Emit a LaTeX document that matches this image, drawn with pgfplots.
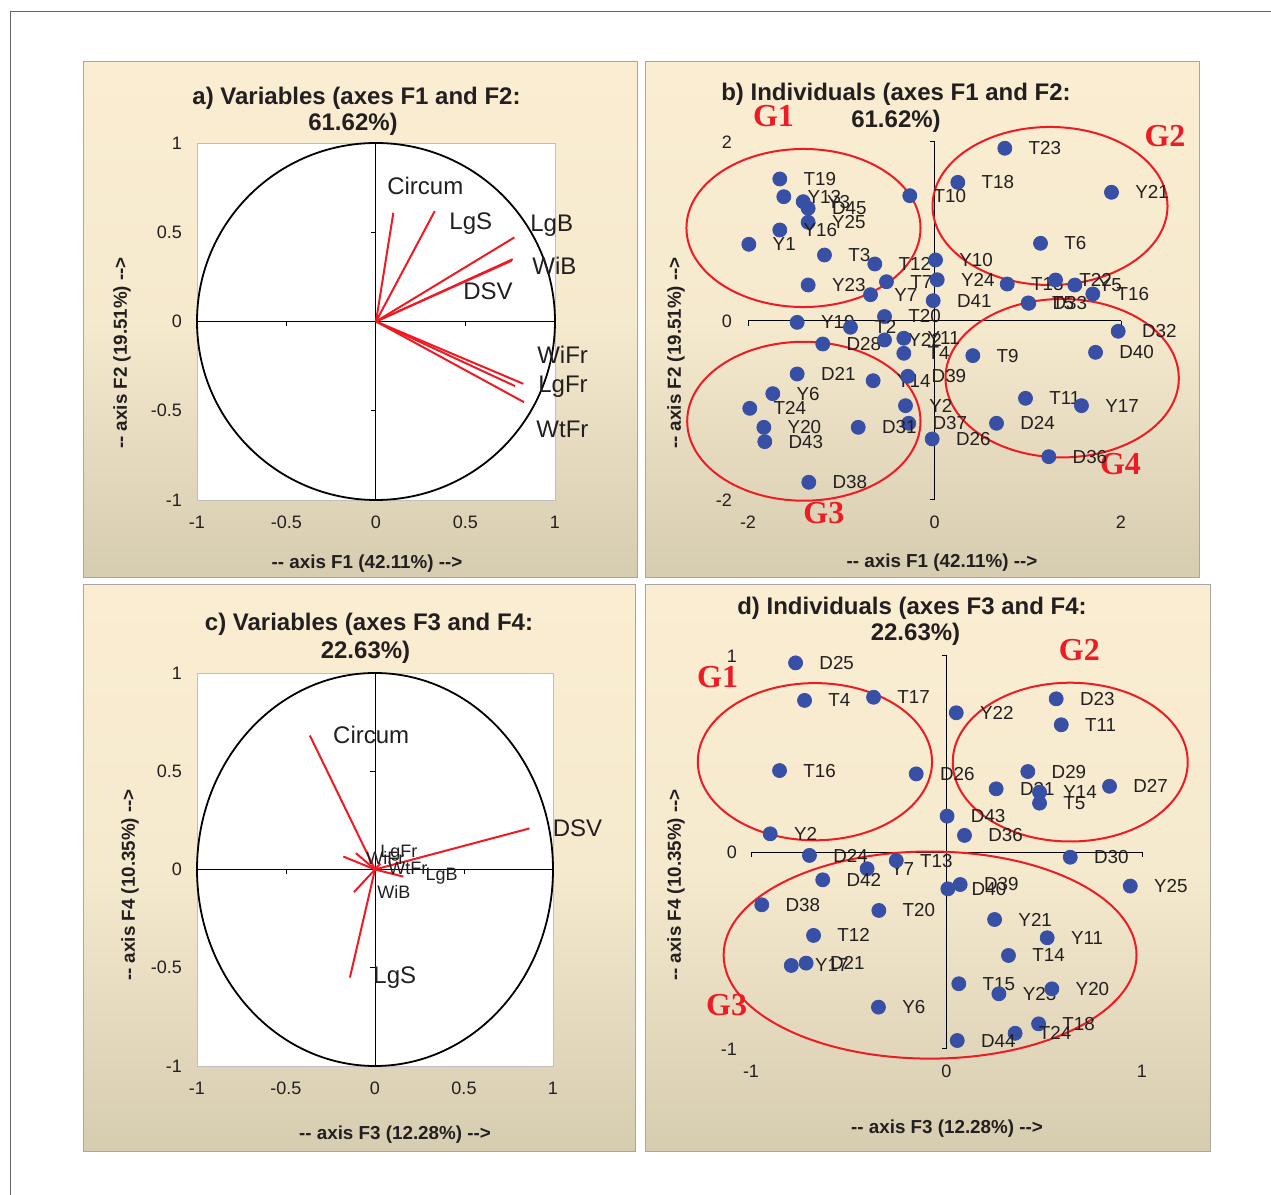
\documentclass[border=0pt]{standalone}
\usepackage{fontspec}
\setmainfont{Liberation Sans}
\newfontfamily\gfont{Liberation Serif}
\usepackage{pgfplots}
\pgfplotsset{compat=1.18}
\definecolor{ptblue}{RGB}{55,80,165}
\definecolor{vred}{RGB}{237,28,36}
\definecolor{bgtop}{RGB}{250,237,210}
\definecolor{bgmid}{RGB}{245,233,206}
\definecolor{bgbot}{RGB}{214,204,176}
\definecolor{txt}{RGB}{35,31,32}
\pgfplotsset{
  panel/.style={scale only axis, clip=false, anchor=south west,
    tick style={draw=none},
    ticklabel style={font=\fontsize{9}{10}\selectfont, text=txt}},
  boxpanel/.style={panel, axis background/.style={fill=white}, axis line style={draw=black!25}},
  freepanel/.style={panel, axis line style={draw=none}},
  pts/.style={only marks, mark=*, mark size=3.5pt, color=ptblue,
    mark options={draw=ptblue, fill=ptblue},
    point meta=explicit symbolic, nodes near coords,
    nodes near coords style={anchor=west, xshift=8.4pt, font=\fontsize{9.4}{10}\selectfont, text=txt}},
  vec/.style={vred, line width=1pt, no marks},
}
\tikzset{
  vlab/.style={anchor=west, inner sep=0pt, text=txt, font=\fontsize{12}{13}\selectfont},
  slab/.style={anchor=west, inner sep=0pt, text=txt, font=\fontsize{9}{10}\selectfont},
  glab/.style={text=vred, font=\gfont\bfseries\fontsize{16}{16}\selectfont},
  ttl/.style={text=txt, font=\bfseries\fontsize{12}{13}\selectfont},
  alab/.style={text=txt, font=\bfseries\fontsize{9.4}{10}\selectfont},
}
\begin{document}
\begin{tikzpicture}
\begin{scope}[x=0.5pt,y=-0.5pt,yshift=597.5pt]
  \path[use as bounding box] (0,0) rectangle (1271,1195);
  \coordinate (A1) at (83,62); \coordinate (A2) at (637,578);
  \coordinate (B1) at (645,62); \coordinate (B2) at (1199,578);
  \coordinate (C1) at (83,585); \coordinate (C2) at (635,1152);
  \coordinate (D1) at (645,585); \coordinate (D2) at (1210,1152);
  \coordinate (PA) at (197,500);
  \coordinate (PB) at (748,500);
  \coordinate (PC) at (197,1066);
  \coordinate (PD) at (751,1049);
  \draw[black!60, line width=0.5pt] (10,1195) -- (10,12) -- (1271,12);
\end{scope}
\foreach \p in {A,B,C,D}{
  \shade[top color=bgtop, bottom color=bgbot, middle color=bgmid] (\p1) rectangle (\p2);
  \draw[black!35, line width=0.5pt] (\p1) rectangle (\p2);
}

% ---------- a) ----------
\begin{axis}[boxpanel, at={(PA)}, width=179pt, height=178.5pt,
  xmin=-1, xmax=1, ymin=-1, ymax=1,
  xtick={-1,-0.5,0,0.5,1}, xticklabels={-1,-0.5,0,0.5,1},
  ytick={-1,-0.5,0,0.5,1}, yticklabels={-1,-0.5,0,0.5,1},
  xticklabel style={yshift=-4.5pt}, yticklabel style={xshift=-4pt}]
\draw[black, line width=0.9pt] (axis cs:0,0) ellipse [x radius=1, y radius=1];
\draw[black, line width=0.5pt] (axis cs:-1,0) -- (axis cs:1,0);
\draw[black, line width=0.5pt] (axis cs:0,-1) -- (axis cs:0,1);
\draw[black, line width=0.5pt] (axis cs:-0.5,0) -- ++(0pt,-2.5pt);
\draw[black, line width=0.5pt] (axis cs:0.5,0) -- ++(0pt,-2.5pt);
\draw[black, line width=0.5pt] (axis cs:0,0.5) -- ++(-2.5pt,0pt);
\draw[black, line width=0.5pt] (axis cs:0,-0.5) -- ++(-2.5pt,0pt);
\addplot[vec] coordinates {(0,0) (0.097,0.609)};
\addplot[vec] coordinates {(0,0) (0.328,0.618)};
\addplot[vec] coordinates {(0,0) (0.773,0.471)};
\addplot[vec] coordinates {(0,0) (0.764,0.349)};
\addplot[vec] coordinates {(0,0) (0.757,0.340)};
\addplot[vec] coordinates {(0,0) (0.823,-0.349)};
\addplot[vec] coordinates {(0,0) (0.777,-0.362)};
\addplot[vec] coordinates {(0,0) (0.827,-0.452)};
\node[vlab] at (axis cs:0.061,0.762) {Circum};
\node[vlab] at (axis cs:0.408,0.549) {LgS};
\node[vlab] at (axis cs:0.860,0.538) {LgB};
\node[vlab] at (axis cs:0.872,0.314) {WiB};
\node[vlab] at (axis cs:0.486,0.168) {DSV};
\node[vlab] at (axis cs:0.899,-0.185) {WiFr};
\node[vlab] at (axis cs:0.905,-0.364) {LgFr};
\node[vlab] at (axis cs:0.894,-0.605) {WtFr};
\end{axis}

% ---------- b) ----------
\begin{axis}[freepanel, at={(PB)}, width=186.5pt, height=179pt,
  xmin=-2, xmax=2, ymin=-2, ymax=2,
  xtick={-2,0,2}, xticklabels={-2,0,2},
  ytick={-2,0,2}, yticklabels={-2,0,2},
  xticklabel style={yshift=-4.5pt}, yticklabel style={xshift=-4.5pt}]
\draw[black, line width=0.5pt] (axis cs:-2,0) -- (axis cs:2,0);
\draw[black, line width=0.5pt] (axis cs:0,-2) -- (axis cs:0,2);
\draw[black, line width=0.5pt] (axis cs:-2,0) -- ++(0pt,-2.5pt);
\draw[black, line width=0.5pt] (axis cs:2,0) -- ++(0pt,-2.5pt);
\draw[black, line width=0.5pt] (axis cs:0,2) -- ++(-2.5pt,0pt);
\draw[black, line width=0.5pt] (axis cs:0,-2) -- ++(-2.5pt,0pt);
\addplot[pts] table[meta=lab] {
x y lab
-1.659 1.587 T19
-1.616 1.389 Y13
-1.408 1.333 Y3
-1.355 1.259 D45
-1.355 1.103 Y25
-1.659 1.017 Y16
-1.991 0.857 Y1
-1.180 0.737 T3
-0.265 1.400 T10
-0.640 0.637 T12
-1.355 0.402 Y23
-0.515 0.439 T7
-0.686 0.294 Y7
0.011 0.682 Y10
0.029 0.461 Y24
-0.014 0.227 D41
-0.536 0.050 T20
-1.473 -0.015 Y19
-0.901 -0.070 T2
-1.198 -0.257 D28
-0.536 -0.212 Y22
-0.329 -0.193 Y11
-0.329 -0.361 T4
-0.658 -0.667 Y14
-0.286 -0.618 D39
-0.311 -0.946 Y2
-0.276 -1.143 D37
-0.818 -1.188 D31
-0.025 -1.318 D26
-1.473 -0.592 D21
-1.734 -0.812 Y6
-1.981 -0.976 T24
-1.830 -1.188 Y20
-1.820 -1.348 D43
-1.348 -1.802 D38
0.754 1.930 T23
0.250 1.549 T18
1.898 1.438 Y21
1.137 0.868 T6
0.780 0.413 T13
1.298 0.458 T22
1.505 0.402 Y5
1.698 0.302 T16
1.011 0.198 D33
1.005 0.202 T5
1.970 -0.115 D32
1.727 -0.350 D40
0.411 -0.387 T9
0.976 -0.864 T11
1.576 -0.946 Y17
0.665 -1.143 D24
1.226 -1.516 D36
};
\draw[vred, line width=1pt] (axis cs:-1.405,1.039) ellipse [x radius=1.255, y radius=0.883];
\draw[vred, line width=1pt] (axis cs:1.239,1.285) ellipse [x radius=1.260, y radius=0.883];
\draw[vred, line width=1pt] (axis cs:-1.401,-1.120) ellipse [x radius=1.251, y radius=0.888];
\draw[vred, line width=1pt] (axis cs:1.369,-0.639) ellipse [x radius=1.251, y radius=0.885];
\node[glab] at (axis cs:-1.727,2.291) {G1};
\node[glab] at (axis cs:2.472,2.067) {G2};
\node[glab] at (axis cs:-1.187,-2.148) {G3};
\node[glab] at (axis cs:1.994,-1.598) {G4};
\end{axis}

% ---------- c) ----------
\begin{axis}[boxpanel, at={(PC)}, width=178pt, height=196.5pt,
  xmin=-1, xmax=1, ymin=-1, ymax=1,
  xtick={-1,-0.5,0,0.5,1}, xticklabels={-1,-0.5,0,0.5,1},
  ytick={-1,-0.5,0,0.5,1}, yticklabels={-1,-0.5,0,0.5,1},
  xticklabel style={yshift=-4.5pt}, yticklabel style={xshift=-4pt}]
\draw[black, line width=0.9pt] (axis cs:0,0) ellipse [x radius=1, y radius=1];
\draw[black, line width=0.5pt] (axis cs:-1,0) -- (axis cs:1,0);
\draw[black, line width=0.5pt] (axis cs:0,-1) -- (axis cs:0,1);
\draw[black, line width=0.5pt] (axis cs:-0.5,0) -- ++(0pt,-2.5pt);
\draw[black, line width=0.5pt] (axis cs:0.5,0) -- ++(0pt,-2.5pt);
\draw[black, line width=0.5pt] (axis cs:0,0.5) -- ++(-2.5pt,0pt);
\draw[black, line width=0.5pt] (axis cs:0,-0.5) -- ++(-2.5pt,0pt);
\addplot[vec] coordinates {(0,0) (-0.366,0.682)};
\addplot[vec] coordinates {(0,0) (0.868,0.209)};
\addplot[vec] coordinates {(0,0) (-0.141,-0.550)};
\addplot[vec] coordinates {(0,0) (-0.178,0.066)};
\addplot[vec] coordinates {(0,0) (-0.107,0.083)};
\addplot[vec] coordinates {(0,0) (0.159,-0.036)};
\addplot[vec] coordinates {(0,0) (-0.118,-0.115)};
\addplot[vec] coordinates {(0,0) (0.030,0.030)};
\node[vlab] at (axis cs:-0.237,0.687) {Circum};
\node[vlab] at (axis cs:0.997,0.209) {DSV};
\node[vlab] at (axis cs:-0.011,-0.550) {LgS};
\node[slab] at (axis cs:-0.051,0.061) {WiFr};
\node[slab] at (axis cs:0.028,0.081) {LgFr};
\node[slab] at (axis cs:0.073,0.005) {WtFr};
\node[slab] at (axis cs:0.282,-0.036) {LgB};
\node[slab] at (axis cs:0.011,-0.112) {WiB};
\end{axis}

% ---------- d) ----------
\begin{axis}[freepanel, at={(PD)}, width=195.5pt, height=196.5pt,
  xmin=-1, xmax=1, ymin=-1, ymax=1,
  xtick={-1,0,1}, xticklabels={-1,0,1},
  ytick={-1,0,1}, yticklabels={-1,0,1},
  xticklabel style={yshift=-4.5pt}, yticklabel style={xshift=-3.5pt}]
\draw[black, line width=0.5pt] (axis cs:-1,0) -- (axis cs:1,0);
\draw[black, line width=0.5pt] (axis cs:0,-1) -- (axis cs:0,1);
\draw[black, line width=0.5pt] (axis cs:-1,0) -- ++(0pt,-2.5pt);
\draw[black, line width=0.5pt] (axis cs:1,0) -- ++(0pt,-2.5pt);
\draw[black, line width=0.5pt] (axis cs:0,1) -- ++(-2.5pt,0pt);
\draw[black, line width=0.5pt] (axis cs:0,-1) -- ++(-2.5pt,0pt);
\addplot[pts] table[meta=lab] {
x y lab
-0.772 0.965 D25
-0.726 0.774 T4
-0.373 0.790 T17
-0.854 0.417 T16
-0.155 0.400 D26
-0.902 0.095 Y2
-0.701 -0.015 D24
-0.406 -0.083 Y7
-0.257 -0.041 T13
-0.633 -0.139 D42
0.050 0.711 Y22
0.561 0.782 D23
0.587 0.650 T11
0.416 0.412 D29
0.254 0.324 D31
0.476 0.307 Y14
0.476 0.251 T5
0.834 0.337 D27
0.003 0.185 D43
0.092 0.087 D36
0.633 -0.024 D30
0.940 -0.171 Y25
0.007 -0.185 D40
0.070 -0.163 D39
-0.945 -0.266 D38
-0.346 -0.295 T20
-0.680 -0.422 T12
-0.794 -0.575 Y17
-0.718 -0.563 D21
-0.348 -0.787 Y6
0.246 -0.341 Y21
0.515 -0.434 Y11
0.317 -0.524 T14
0.063 -0.668 T15
0.268 -0.719 Y23
0.539 -0.694 Y20
0.471 -0.872 T18
0.351 -0.920 T24
0.055 -0.957 D44
};
\draw[vred, line width=1pt] (axis cs:-0.673,0.462) ellipse [x radius=0.599, y radius=0.400];
\draw[vred, line width=1pt] (axis cs:0.633,0.460) ellipse [x radius=0.601, y radius=0.404];
\draw[vred, line width=1pt] (axis cs:-0.084,-0.522) ellipse [x radius=1.056, y radius=0.527];
\node[glab] at (axis cs:-1.171,0.891) {G1};
\node[glab] at (axis cs:0.680,1.028) {G2};
\node[glab] at (axis cs:-1.125,-0.774) {G3};
\end{axis}

\begin{scope}[x=0.5pt,y=-0.5pt,yshift=597.5pt]
  \node[ttl] at (356.5,98) {a) Variables (axes F1 and F2:};
  \node[ttl] at (353,124) {61.62\%)};
  \node[ttl] at (896,94.5) {b) Individuals (axes F1 and F2:};
  \node[ttl] at (896,121.5) {61.62\%)};
  \node[ttl] at (369,624.5) {c) Variables (axes F3 and F4:};
  \node[ttl] at (365.5,652) {22.63\%)};
  \node[ttl] at (912,608.5) {d) Individuals (axes F3 and F4:};
  \node[ttl] at (915.5,634.5) {22.63\%)};
  \node[alab] at (367,564) {-{}- axis F1 (42.11\%) -{}->};
  \node[alab, rotate=90] at (122,353) {-{}- axis F2 (19.51\%) -{}->};
  \node[alab] at (942,563) {-{}- axis F1 (42.11\%) -{}->};
  \node[alab, rotate=90] at (676,353) {-{}- axis F2 (19.51\%) -{}->};
  \node[alab] at (395,1135) {-{}- axis F3 (12.28\%) -{}->};
  \node[alab, rotate=90] at (130,885) {-{}- axis F4 (10.35\%) -{}->};
  \node[alab] at (947,1129) {-{}- axis F3 (12.28\%) -{}->};
  \node[alab, rotate=90] at (676,885) {-{}- axis F4 (10.35\%) -{}->};
\end{scope}
\end{tikzpicture}
\end{document}
